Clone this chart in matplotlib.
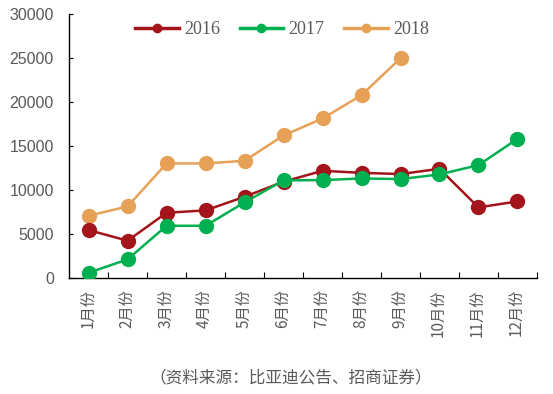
import matplotlib
matplotlib.use("Agg")
import matplotlib.pyplot as plt
from matplotlib.lines import Line2D

plt.rcParams['font.family'] = ['Noto Sans CJK SC', 'DejaVu Sans']

months = ["1月份", "2月份", "3月份", "4月份", "5月份", "6月份",
          "7月份", "8月份", "9月份", "10月份", "11月份", "12月份"]
s2016 = [5450, 4240, 7420, 7690, 9240, 10950, 12190, 11960, 11820, 12420, 8030, 8710]
s2017 = [600, 2120, 5940, 5940, 8600, 11100, 11130, 11320, 11250, 11780, 12840, 15820]
s2018 = [7080, 8140, 13030, 13030, 13330, 16210, 18140, 20790, 24990]
yticks = [0, 5000, 10000, 15000, 20000, 25000, 30000]
source = "（资料来源：比亚迪公告、招商证券）"

c16, c17, c18 = "#A3141B", "#00B050", "#E6A157"
gray = "#595959"

fig = plt.figure(figsize=(5.53, 3.94), dpi=100)
ax = fig.add_axes([0.125, 0.2944, 0.846, 0.6696])

x = list(range(len(months)))
ax.plot(x[:len(s2018)], s2018, color=c18, lw=1.8, marker='o', ms=10, zorder=3)
ax.plot(x, s2016, color=c16, lw=1.8, marker='o', ms=10, zorder=4)
ax.plot(x, s2017, color=c17, lw=1.8, marker='o', ms=10, zorder=5)

ax.set_xlim(-0.5, 11.5)
ax.set_ylim(0, 30000)
ax.set_yticks(yticks)
ax.set_yticklabels([str(v) for v in yticks], color=gray, fontsize=11.5,
                   family=['Liberation Sans', 'DejaVu Sans'])
ax.tick_params(axis='y', direction='in', length=3, width=0.8, pad=11)

ax.set_xticks(x)
ax.set_xticklabels(months, rotation=90, color=gray, fontsize=11)
ax.tick_params(axis='x', which='major', length=0, pad=8)
ax.set_xticks([i + 0.5 for i in x], minor=True)
ax.tick_params(axis='x', which='minor', direction='in', length=4, width=0.8)

for s in ['top', 'right']:
    ax.spines[s].set_visible(False)
for s in ['left', 'bottom']:
    ax.spines[s].set_linewidth(1.0)
    ax.spines[s].set_color('black')

handles = [Line2D([], [], color=c, lw=2.5, marker='o', ms=6) for c in (c16, c17, c18)]
leg = fig.legend(handles, ["2016", "2017", "2018"], loc='center',
                 bbox_to_anchor=(0.51, 0.924), ncol=3, frameon=False, handlelength=2.4,
                 columnspacing=1.1, handletextpad=0.3, borderaxespad=0, borderpad=0,
                 prop={'family': 'Liberation Serif', 'size': 13})
for t in leg.get_texts():
    t.set_color(gray)

fig.text(0.526, 0.04, source, ha='center', va='center', fontsize=12, color=gray)

fig.savefig("out.png", dpi=100)
